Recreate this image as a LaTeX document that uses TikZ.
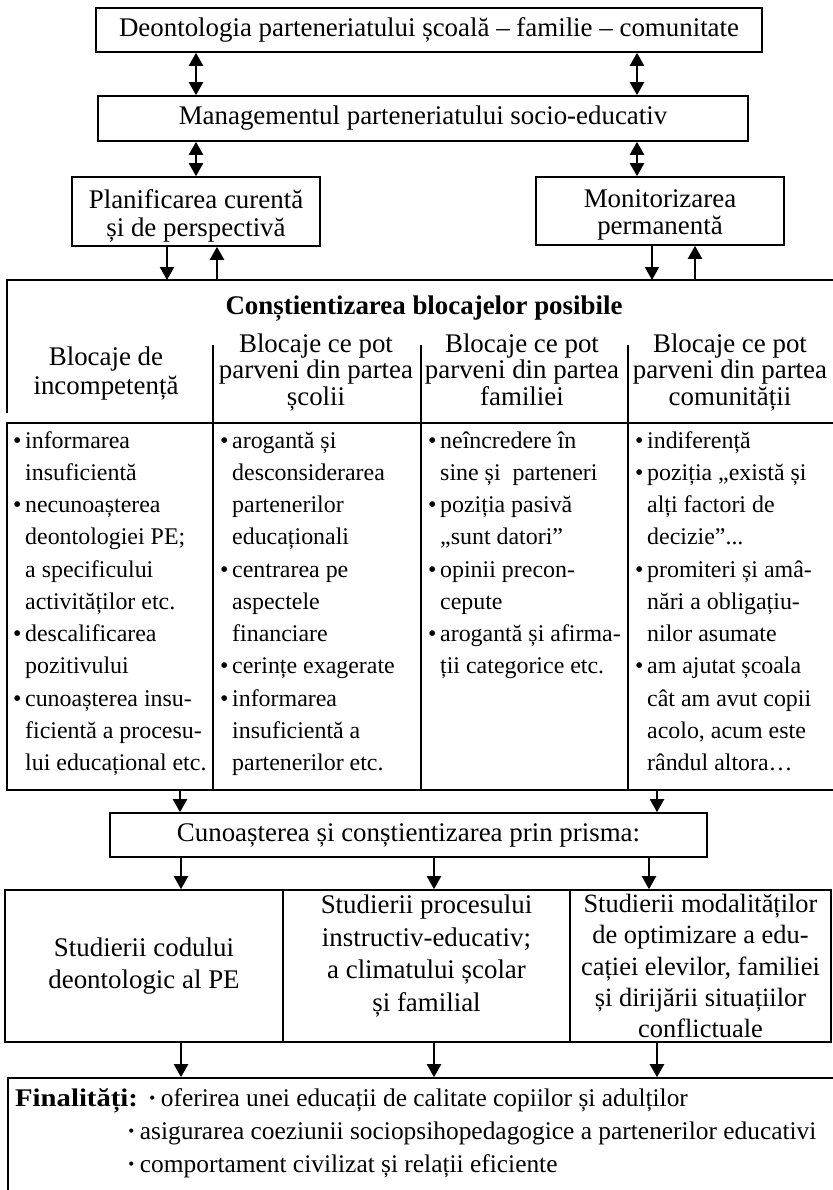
\documentclass[tikz,border=0pt]{standalone}
\usepackage{fontspec}
\usepackage{graphicx}
\setmainfont{Liberation Serif}
\usetikzlibrary{arrows.meta}
\newcommand\fbig{\fontsize{27}{28}\selectfont}
\newcommand\fhd{\fontsize{27}{27}\selectfont}
\newcommand\fbody{\fontsize{24}{32.4}\selectfont}
\newcommand\fstud{\fontsize{27}{33}\selectfont}
\newcommand\fstudt{\fontsize{26.5}{31.5}\selectfont}
\newcommand\ffin{\fontsize{25.5}{33}\selectfont}
\newcommand\bl{\makebox[12bp][l]{\textbullet}}
\newcommand\ct{\hspace*{12bp}}
\begin{document}
\begin{tikzpicture}[x=1bp,y=-1bp,
  box/.style={draw, line width=1.6bp, inner sep=0pt, align=center, font=\fbig},
  ln/.style={line width=1.6bp},
  arr/.style={line width=2.2bp, -{Triangle[length=13bp,width=14bp]}},
  dbl/.style={line width=2.2bp, {Triangle[length=13bp,width=14bp]}-{Triangle[length=13bp,width=14bp]}},
  txt/.style={inner sep=0pt}]
\useasboundingbox (0,0) rectangle (833,1190);
\clip (0,0) rectangle (833,1190);
\fill[white] (0,0) rectangle (833,1190);

% top boxes
\node[box, minimum width=666bp, minimum height=44bp] (deon) at (429,30) {Deontologia parteneriatului școală – familie – comunitate};
\node[box, minimum width=650bp, minimum height=45bp] (mgmt) at (423,118.5) {Managementul parteneriatului socio-educativ};
\node[box, minimum width=248bp, minimum height=69bp] (plan) at (196,211.5) {};
\node[box, minimum width=248bp, minimum height=68bp] (moni) at (660,211) {};
\node[txt, align=center, font=\fbig] (plant) at ([yshift=-4bp]plan.center) {Planificarea curentă\\și de perspectivă};
\node[txt, align=center, font=\fbig] (monit) at ([yshift=-4bp]moni.center) {Monitorizarea\\permanentă};

\draw[dbl] (plan.north |- deon.south) -- (plan.north |- mgmt.north);
\draw[dbl] ([xshift=-23bp]moni.north |- deon.south) -- ([xshift=-23bp]moni.north |- mgmt.north);
\draw[dbl] (plan.north |- mgmt.south) -- (plan.north);
\draw[dbl] ([xshift=-23bp]moni.north |- mgmt.south) -- ([xshift=-23bp]moni.north);

% table
\coordinate (tabtop) at (7,280);
\draw[ln] (7,413) -- (tabtop) -- (850,280);
\node[draw, ln, minimum width=843bp, minimum height=367bp, inner sep=0pt] (tbody) at (428.5,606.5) {};
\draw[ln] (213,345) -- (213,790);
\draw[ln] (421,345) -- (421,790);
\draw[ln] (628,345) -- (628,790);

\draw[arr] ([xshift=-29bp]plan.south) -- ([xshift=-29bp]plan.south |- tabtop);
\draw[arr] ([xshift=21bp]plan.south |- tabtop) -- ([xshift=21bp]plan.south);
\draw[arr] ([xshift=-8bp]moni.south) -- ([xshift=-8bp]moni.south |- tabtop);
\draw[arr] ([xshift=35bp]moni.south |- tabtop) -- ([xshift=35bp]moni.south);

\node[txt, anchor=base, font=\fbig\bfseries] (title) at (424,314) {Conștientizarea blocajelor posibile};

\node[txt, anchor=base] (h1) at (106,365) {\parbox[t]{260bp}{\centering\fontsize{27}{30}\selectfont Blocaje de\\incompetență}};
\node[txt, anchor=base] (h2) at (316,352) {\parbox[t]{260bp}{\centering\fhd Blocaje ce pot\\parveni din partea\\școlii}};
\node[txt, anchor=base] (h3) at (522,352) {\parbox[t]{260bp}{\centering\fhd Blocaje ce pot\\parveni din partea\\familiei}};
\node[txt, anchor=base] (h4) at (730,352) {\parbox[t]{260bp}{\centering\fhd Blocaje ce pot\\parveni din partea\\comunității}};

\node[txt, anchor=base west] (c1) at (13,448) {\parbox[t]{300bp}{\raggedright\fbody
\bl informarea\\
\ct insuficientă\\
\bl necunoașterea\\
\ct deontologiei PE;\\
\ct a specificului\\
\ct activităților etc.\\
\bl descalificarea\\
\ct pozitivului\\
\bl cunoașterea insu-\\
\ct ficientă a procesu-\\
\ct lui educațional etc.}};
\node[txt, anchor=base west] (c2) at (220,448) {\parbox[t]{300bp}{\raggedright\fbody
\bl arogantă și\\
\ct desconsiderarea\\
\ct partenerilor\\
\ct educaționali\\
\bl centrarea pe\\
\ct aspectele\\
\ct financiare\\
\bl cerințe exagerate\\
\bl informarea\\
\ct insuficientă a\\
\ct partenerilor etc.}};
\node[txt, anchor=base west] (c3) at (428,448) {\parbox[t]{300bp}{\raggedright\fbody
\bl neîncredere în\\
\ct sine și\ \ parteneri\\
\bl poziția pasivă\\
\ct „sunt datori”\\
\bl opinii precon-\\
\ct cepute\\
\bl arogantă și afirma-\\
\ct ții categorice etc.}};
\node[txt, anchor=base west] (c4) at (635,448) {\parbox[t]{300bp}{\raggedright\fbody
\bl indiferență\\
\bl poziția „există și\\
\ct alți factori de\\
\ct decizie”...\\
\bl promiteri și amâ-\\
\ct nări a obligațiu-\\
\ct nilor asumate\\
\bl am ajutat școala\\
\ct cât am avut copii\\
\ct acolo, acum este\\
\ct rândul altora…}};

% lower part
\node[box, minimum width=597bp, minimum height=44bp] (cuno) at (408.5,835) {Cunoașterea și conștientizarea prin prisma:};
\draw[arr] ([xshift=-228.5bp]cuno.north |- tbody.south) -- ([xshift=-228.5bp]cuno.north);
\draw[arr] ([xshift=248.5bp]cuno.north |- tbody.south) -- ([xshift=248.5bp]cuno.north);

\node[draw, ln, inner sep=0pt, minimum width=278bp, minimum height=152bp] (stud1) at (144,966) {};
\node[draw, ln, inner sep=0pt, minimum width=287bp, minimum height=152bp] (stud2) at (426.5,966) {};
\node[draw, ln, inner sep=0pt, minimum width=261bp, minimum height=152bp] (stud3) at (700.5,966) {};
\node[txt, align=center, font=\fstud] (s1t) at (stud1.center) {Studierii codului\\deontologic al PE};
\node[txt, align=center, font=\fstud] (s2t) at ([yshift=10bp]stud2.center) {Studierii procesului\\instructiv-educativ;\\a climatului școlar\\și familial};
\node[txt, align=center, font=\fstudt] (s3t) at ([yshift=0bp]stud3.center) {Studierii modalităților\\de optimizare a edu-\\cației elevilor, familiei\\și dirijării situațiilor\\conflictuale};

\draw[arr] ([xshift=37bp]stud1.north |- cuno.south) -- ([xshift=37bp]stud1.north);
\draw[arr] ([xshift=7.5bp]stud2.north |- cuno.south) -- ([xshift=7.5bp]stud2.north);
\draw[arr] ([xshift=-51.5bp]stud3.north |- cuno.south) -- ([xshift=-51.5bp]stud3.north);

\node[draw, ln, inner sep=0pt, minimum width=842bp, minimum height=142bp] (fin) at (429,1149) {};
\draw[arr] ([xshift=37bp]stud1.south) -- ([xshift=37bp]stud1.south |- fin.north);
\draw[arr] ([xshift=7.5bp]stud2.south) -- ([xshift=7.5bp]stud2.south |- fin.north);
\draw[arr] ([xshift=-43.5bp]stud3.south) -- ([xshift=-43.5bp]stud3.south |- fin.north);

\node[txt, anchor=base west, font=\ffin\bfseries] (flab) at (15,1106) {\scalebox{1.13}[1]{Finalități:}};
\node[txt, anchor=base west, font=\ffin] (f1) at (148,1106) {\textbf{·}\,oferirea unei educații de calitate copiilor și adulților};
\node[txt, anchor=base west, font=\ffin] (f2) at (127,1139) {\textbf{·}\,asigurarea coeziunii sociopsihopedagogice a partenerilor educativi};
\node[txt, anchor=base west, font=\ffin] (f3) at (127,1172) {\textbf{·}\,comportament civilizat și relații eficiente};
\end{tikzpicture}
\end{document}
